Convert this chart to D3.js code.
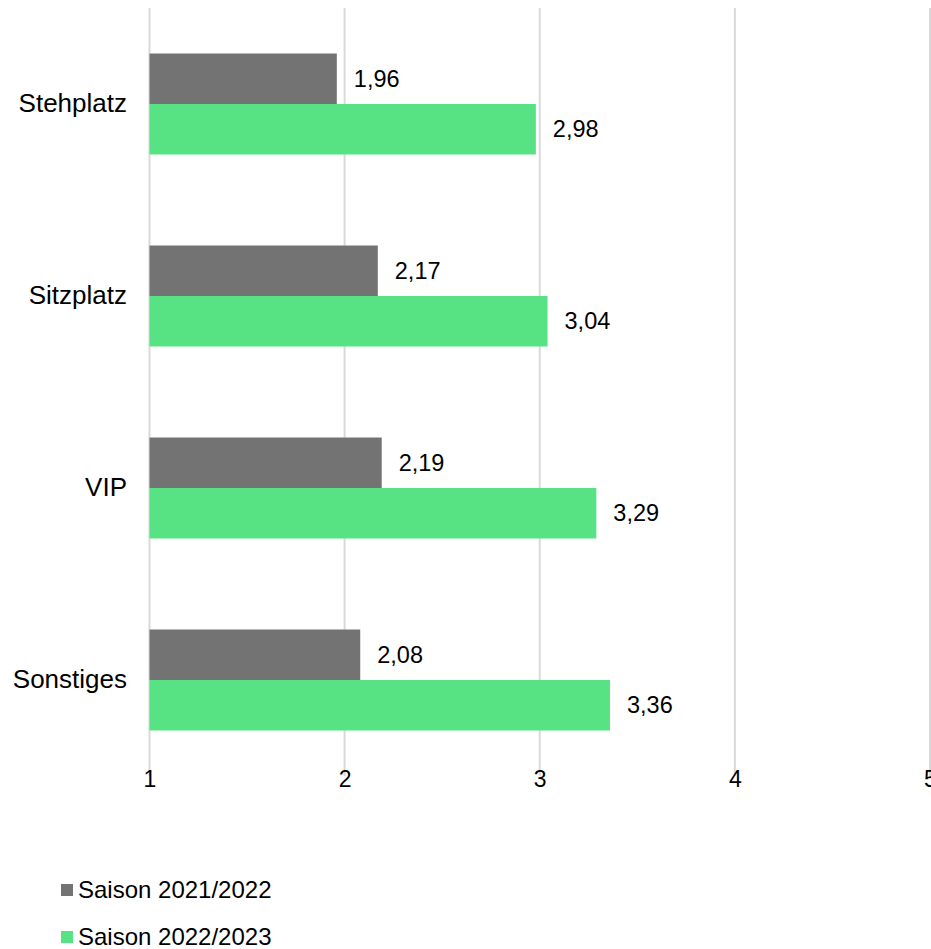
<!DOCTYPE html>
<html>
<head>
<meta charset="utf-8">
<script src="https://cdn.jsdelivr.net/npm/d3@7"></script>
<style>
  html, body { margin: 0; padding: 0; background: #fff; }
  svg { display: block; font-family: "Liberation Sans", Arial, sans-serif; }
</style>
</head>
<body>
<svg id="chart" width="931" height="949"></svg>
<script>
const categories = ["Stehplatz", "Sitzplatz", "VIP", "Sonstiges"];
const seriesNames = ["Saison 2021/2022", "Saison 2022/2023"];
const season2122 = [1.96, 2.17, 2.19, 2.08];
const season2223 = [2.98, 3.04, 3.29, 3.36];
const xTicks = [1, 2, 3, 4, 5];
const colors = ["#737373", "#57E284"];

const seriesValues = [season2122, season2223];
const svg = d3.select("#chart");

const x = d3.scaleLinear().domain([1, 5]).range([149.5, 930]);
const y = d3.scaleBand().domain(categories).range([8, 776]).paddingInner(0.474).paddingOuter(0.237);
const ySub = d3.scaleBand().domain(seriesNames).range([0, y.bandwidth()]);

// gridlines
svg.append("g").selectAll("line").data(xTicks).join("line")
  .attr("x1", d => x(d)).attr("x2", d => x(d))
  .attr("y1", 8).attr("y2", 776)
  .attr("stroke", "#d9d9d9").attr("stroke-width", 2);

// x axis labels
const xAxis = d3.axisBottom(x).tickValues(xTicks).tickSize(0).tickPadding(0).tickFormat(d => String(d));
const gx = svg.append("g").attr("transform", "translate(0,771)").attr("font-size", 23).call(xAxis);
gx.attr("font-size", 23).attr("font-family", "'Liberation Sans', Arial, sans-serif");
gx.select(".domain").remove();
gx.selectAll("text").attr("font-size", 23).attr("fill", "#000").attr("dy", "0.71em");

// y axis labels
const yAxis = d3.axisLeft(y).tickSize(0).tickPadding(0);
const gy = svg.append("g").attr("transform", "translate(127,0)").call(yAxis);
gy.attr("font-size", 26).attr("font-family", "'Liberation Sans', Arial, sans-serif");
gy.select(".domain").remove();
gy.selectAll("text").attr("font-size", 26).attr("fill", "#000");

const fmt = v => v.toFixed(2).replace(".", ",");

seriesNames.forEach((name, si) => {
  const g = svg.append("g");
  g.selectAll("rect").data(categories).join("rect")
    .attr("x", x(1))
    .attr("y", c => y(c) + ySub(name))
    .attr("width", (c, i) => x(seriesValues[si][i]) - x(1))
    .attr("height", ySub.bandwidth())
    .attr("fill", colors[si]);
  g.selectAll("text").data(categories).join("text")
    .attr("x", (c, i) => x(seriesValues[si][i]) + 17)
    .attr("y", c => y(c) + ySub(name) + ySub.bandwidth() / 2)
    .attr("dy", "0.35em")
    .attr("font-size", 23.5)
    .attr("fill", "#000")
    .text((c, i) => fmt(seriesValues[si][i]));
});

// legend
const legend = svg.append("g");
seriesNames.forEach((name, si) => {
  const ly = 890 + si * 47;
  legend.append("rect").attr("x", 61).attr("y", ly - 6).attr("width", 12).attr("height", 12).attr("fill", colors[si]);
  legend.append("text").attr("x", 78).attr("y", ly).attr("dy", "0.35em")
    .attr("font-size", 24).attr("fill", "#000").text(name);
});
</script>
</body>
</html>
